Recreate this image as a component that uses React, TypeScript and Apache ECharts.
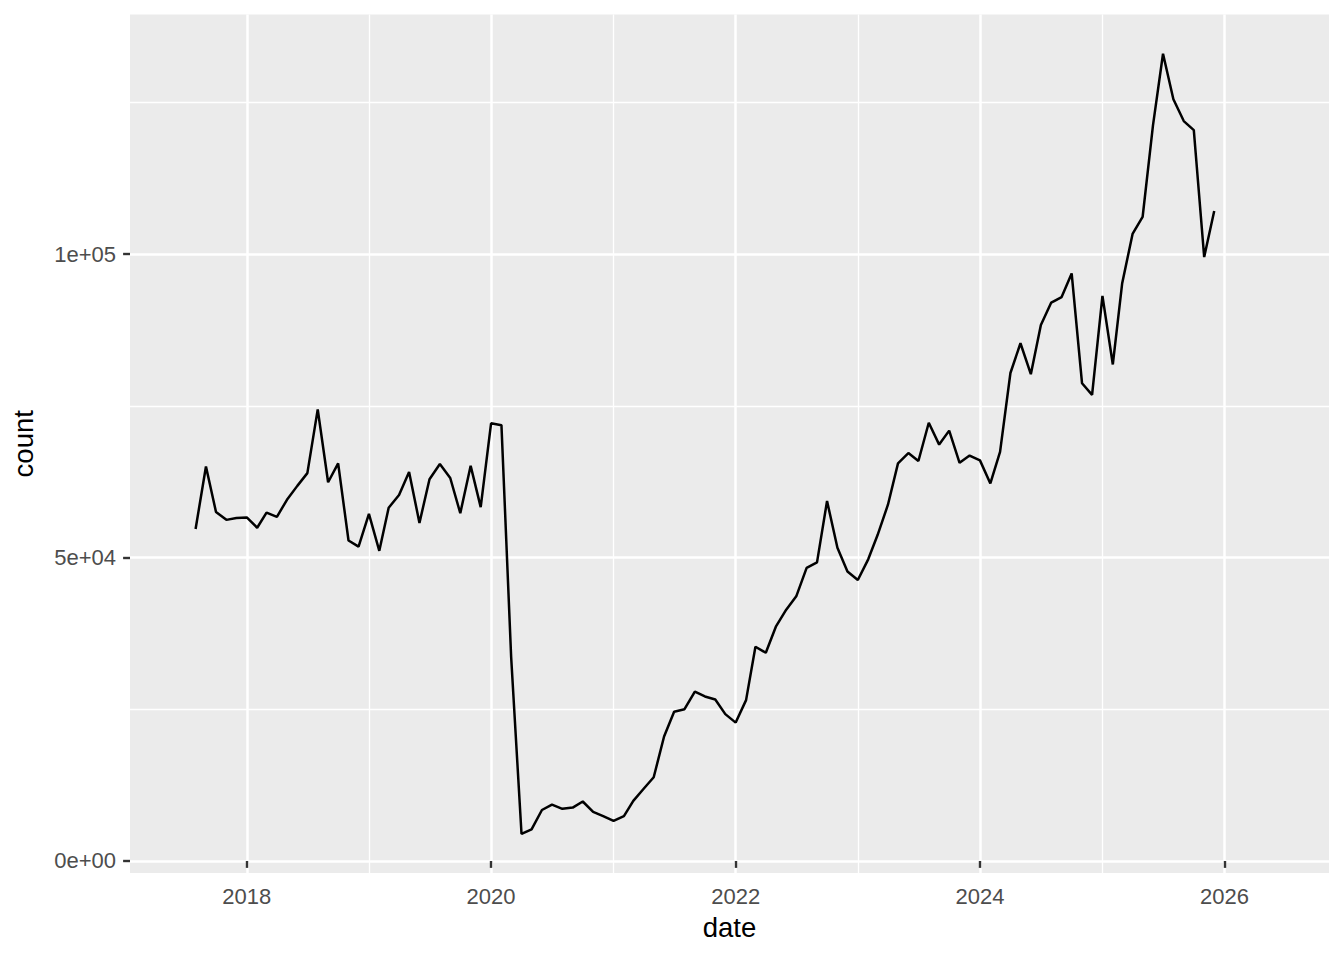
import React, { useEffect, useRef } from "react";
import * as echarts from "echarts";

// Monthly observations, first month = 2017-08
const firstYear = 2017;
const firstMonth = 8;
const counts: number[] = [
  // 2017 (Aug-Dec)
  54700, 65000, 57500, 56200, 56500,
  // 2018
  56600, 54900, 57400, 56700, 59500, 61800, 63900, 74400, 62400, 65500, 52800, 51800,
  // 2019
  57200, 51100, 58200, 60300, 64100, 55700, 62900, 65400, 63100, 57300, 65100, 58300,
  // 2020
  72100, 71800, 33600, 4450, 5200, 8400, 9300, 8600, 8800, 9800, 8100, 7400,
  // 2021
  6600, 7400, 9900, 11900, 13800, 20500, 24600, 25000, 27900, 27100, 26600, 24200,
  // 2022
  22800, 26500, 35300, 34300, 38600, 41400, 43600, 48300, 49200, 59300, 51600, 47700,
  // 2023
  46300, 49700, 53700, 58700, 65500, 67200, 65900, 72200, 68600, 70900, 65600, 66800,
  // 2024
  66000, 62200, 67400, 80400, 85300, 80200, 88300, 92000, 92900, 96800, 78700, 76800,
  // 2025
  93100, 81800, 95200, 103300, 106100, 121200, 133000, 125500, 121900, 120400, 99500, 107100,
];

const xMajorYears = [2018, 2020, 2022, 2024, 2026];
const xMinorYears = [2019, 2021, 2023, 2025];
const yMajorValues = [0, 50000, 100000];
const yMajorLabels = ["0e+00", "5e+04", "1e+05"];
const yMinorValues = [25000, 75000, 125000];

const ts = (y: number, m: number, d: number) => Date.UTC(y, m - 1, d);

const FONT = "'Liberation Sans', Arial, Helvetica, sans-serif";

export default function App() {
  const ref = useRef<HTMLDivElement>(null);

  useEffect(() => {
    if (!ref.current) return;
    const chart = echarts.init(ref.current, undefined, { renderer: "svg" });

    const data = counts.map((c, i) => {
      const mIdx = firstMonth - 1 + i;
      const y = firstYear + Math.floor(mIdx / 12);
      const m = (mIdx % 12) + 1;
      return [ts(y, m, 1), c];
    });

    const xMin = ts(2017, 1, 17);
    const xMax = ts(2026, 11, 9);
    const yMin = -1980;
    const yMax = 139460;
    const xMajor = xMajorYears.map((y) => ts(y, 1, 1));
    const xMinor = xMinorYears.map((y) => ts(y, 1, 1));

    const option: any = {
      animation: false,
      backgroundColor: "#FFFFFF",
      grid: {
        left: 130,
        right: 15,
        top: 14.5,
        bottom: 87,
        show: true,
        backgroundColor: "#EBEBEB",
        borderWidth: 0,
        containLabel: false,
        outerBoundsMode: "none",
      },
      xAxis: [
        {
          type: "value",
          position: "bottom",
          min: xMin,
          max: xMax,
          axisLine: { show: false },
          axisTick: {
            show: true,
            customValues: xMajor,
            length: 6.9,
            lineStyle: { color: "#333333", width: 2.4 },
          },
          axisLabel: {
            customValues: xMajor,
            formatter: (v: number) => String(new Date(v).getUTCFullYear()),
            color: "#4D4D4D",
            fontSize: 22,
            fontFamily: FONT,
            margin: 12,
          },
          splitLine: { show: true, lineStyle: { color: "#FFFFFF", width: 2.5 } },
          name: "date",
          nameLocation: "middle",
          nameGap: 40,
          nameTextStyle: { color: "#000000", fontSize: 27.5, fontFamily: FONT },
        },
        {
          type: "value",
          position: "bottom",
          min: xMin,
          max: xMax,
          axisLine: { show: false },
          axisTick: { show: false, customValues: xMinor },
          axisLabel: { show: false, customValues: xMinor },
          splitLine: { show: true, lineStyle: { color: "#FFFFFF", width: 1.3 } },
        },
      ],
      yAxis: [
        {
          type: "value",
          position: "left",
          min: yMin,
          max: yMax,
          axisLine: { show: false },
          axisTick: {
            show: true,
            customValues: yMajorValues,
            length: 6.9,
            lineStyle: { color: "#333333", width: 2.4 },
          },
          axisLabel: {
            customValues: yMajorValues,
            formatter: (v: number) => {
              const i = yMajorValues.findIndex((t) => Math.abs(t - v) < 1);
              return i >= 0 ? yMajorLabels[i] : "";
            },
            color: "#4D4D4D",
            fontSize: 22,
            fontFamily: FONT,
            margin: 14,
          },
          splitLine: { show: true, lineStyle: { color: "#FFFFFF", width: 2.5 } },
          name: "count",
          nameLocation: "middle",
          nameGap: 93,
          nameTextStyle: { color: "#000000", fontSize: 27.5, fontFamily: FONT },
        },
        {
          type: "value",
          position: "left",
          min: yMin,
          max: yMax,
          axisLine: { show: false },
          axisTick: { show: false, customValues: yMinorValues },
          axisLabel: { show: false, customValues: yMinorValues },
          splitLine: { show: true, lineStyle: { color: "#FFFFFF", width: 1.3 } },
        },
      ],
      series: [
        {
          type: "line",
          xAxisIndex: 0,
          yAxisIndex: 0,
          data,
          showSymbol: false,
          symbol: "none",
          silent: true,
          z: 10,
          lineStyle: { color: "#000000", width: 2.5 },
        },
      ],
    };

    chart.setOption(option);
    return () => chart.dispose();
  }, []);

  return (
    <div
      ref={ref}
      style={{ position: "fixed", left: 0, top: 0, width: 1344, height: 960 }}
    />
  );
}
